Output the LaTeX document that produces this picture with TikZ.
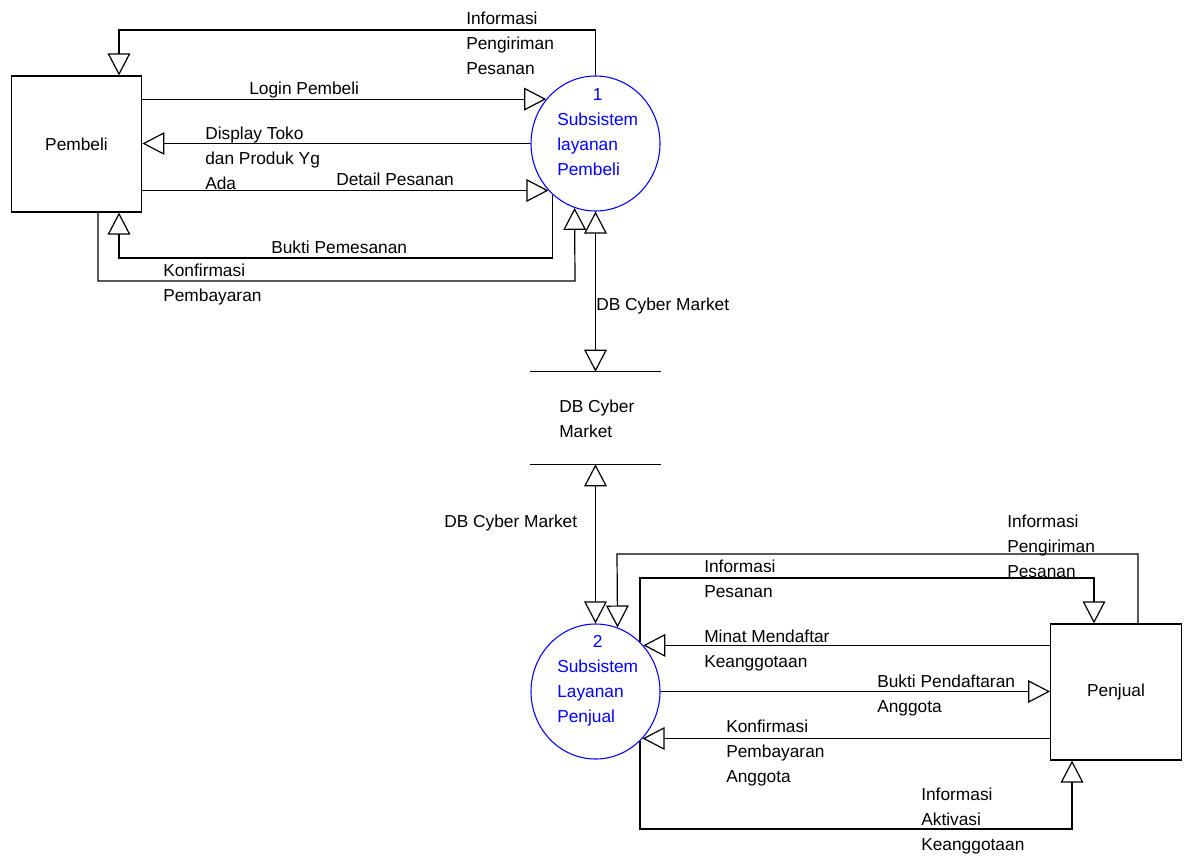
\documentclass[tikz,border=0pt]{standalone}
\usepackage{fontspec}
\setmainfont{Liberation Sans}
\usetikzlibrary{arrows.meta,shapes.geometric}
\newcommand{\mlines}[1]{\begin{tabular}[t]{@{}l@{}}#1\end{tabular}}
\newcommand{\lblfont}{\fontsize{13}{18.75}\selectfont}
\begin{document}
\begin{tikzpicture}[x=0.75pt,y=-0.75pt,
  every node/.style={font=\lblfont},
  ent/.style={draw, line width=0.9pt, minimum width=98pt, minimum height=102pt, inner sep=0},
  proc/.style={ellipse, draw=blue, line width=0.8pt, minimum width=96.75pt, minimum height=101.25pt, inner sep=0},
  flow/.style={line width=0.9pt, -{Triangle[open,length=16.5pt,width=17pt]}},
  flowb/.style={line width=0.9pt, {Triangle[open,length=16.5pt,width=17pt]}-{Triangle[open,length=16.5pt,width=17pt]}},
  lbl/.style={inner sep=0, anchor=base west},
  ptext/.style={inner sep=0, anchor=base west, text=blue},
]
\useasboundingbox (0,0) rectangle (1189,856);

% entities and processes
\node[ent] (pb) at (76.5,144) {Pembeli};
\node[ent] (pj) at (1116,692) {Penjual};
\node[proc] (c1) at (595.5,143.5) {};
\node[proc] (c2) at (595.5,691.5) {};
\node[ptext] (c1t) at (557,100) {\mlines{\multicolumn{1}{@{}c@{}}{1}\\Subsistem\\layanan\\Pembeli}};
\node[ptext] (c2t) at (557,647) {\mlines{\multicolumn{1}{@{}c@{}}{2}\\Subsistem\\Layanan\\Penjual}};

% data store
\node[inner sep=0, minimum width=97.5pt, minimum height=69pt] (db) at (595.5,418) {};
\draw[line width=0.9pt] (db.north west) -- (db.north east);
\draw[line width=0.9pt] (db.south west) -- (db.south east);
\node[lbl] (dbt) at (559,412) {\mlines{DB Cyber\\Market}};

% flows, upper part
\draw[flow] (c1.north) |- (119,30) -- (pb.north -| 119,0);
\draw[flow] (pb.east |- c1.138) -- (c1.138);
\draw[flow] (c1.west) -- (pb.east |- c1.west);
\draw[flow] (pb.east |- c1.225) -- (c1.225);
\draw[flow] (c1.230) |- (119,258) -- (pb.south -| 119,0);
\draw[flow] (pb.south -| 98,0) |- (575,281) -- (c1.252);
\draw[flowb] (c1.south) -- (db.north);

% flows, lower part
\draw[flowb] (db.south) -- (c2.north);
\draw[flow] (pj.north -| 1138,0) |- (617,554) -- (c2.71);
\draw[flow] (c2.48) |- (1094,578) -- (pj.north -| 1094,0);
\draw[flow] (pj.west |- c2.44) -- (c2.44);
\draw[flow] (c2.east) -- (pj.west |- c2.east);
\draw[flow] (pj.west |- c2.315) -- (c2.315);
\draw[flow] (c2.312) |- (1072,829) -- (pj.south -| 1072,0);

% labels
\node[lbl] (l1) at (466,25) {\mlines{Informasi\\Pengiriman\\Pesanan}};
\node[lbl] (l2) at (249,94) {Login Pembeli};
\node[lbl] (l3) at (205,139) {\mlines{Display Toko\\dan Produk Yg\\Ada}};
\node[lbl] (l4) at (336,185) {Detail Pesanan};
\node[lbl] (l5) at (271,253) {Bukti Pemesanan};
\node[lbl] (l6) at (163,276) {\mlines{Konfirmasi\\Pembayaran}};
\node[lbl] (l7) at (596,310) {DB Cyber Market};
\node[lbl] (l8) at (444,527) {DB Cyber Market};
\node[lbl] (l9) at (1007,527) {\mlines{Informasi\\Pengiriman\\Pesanan}};
\node[lbl] (l10) at (704,572) {\mlines{Informasi\\Pesanan}};
\node[lbl] (l11) at (704,642) {\mlines{Minat Mendaftar\\Keanggotaan}};
\node[lbl] (l12) at (877,687) {\mlines{Bukti Pendaftaran\\Anggota}};
\node[lbl] (l13) at (726,732) {\mlines{Konfirmasi\\Pembayaran\\Anggota}};
\node[lbl] (l14) at (921,800) {\mlines{Informasi\\Aktivasi\\Keanggotaan}};
\end{tikzpicture}
\end{document}
